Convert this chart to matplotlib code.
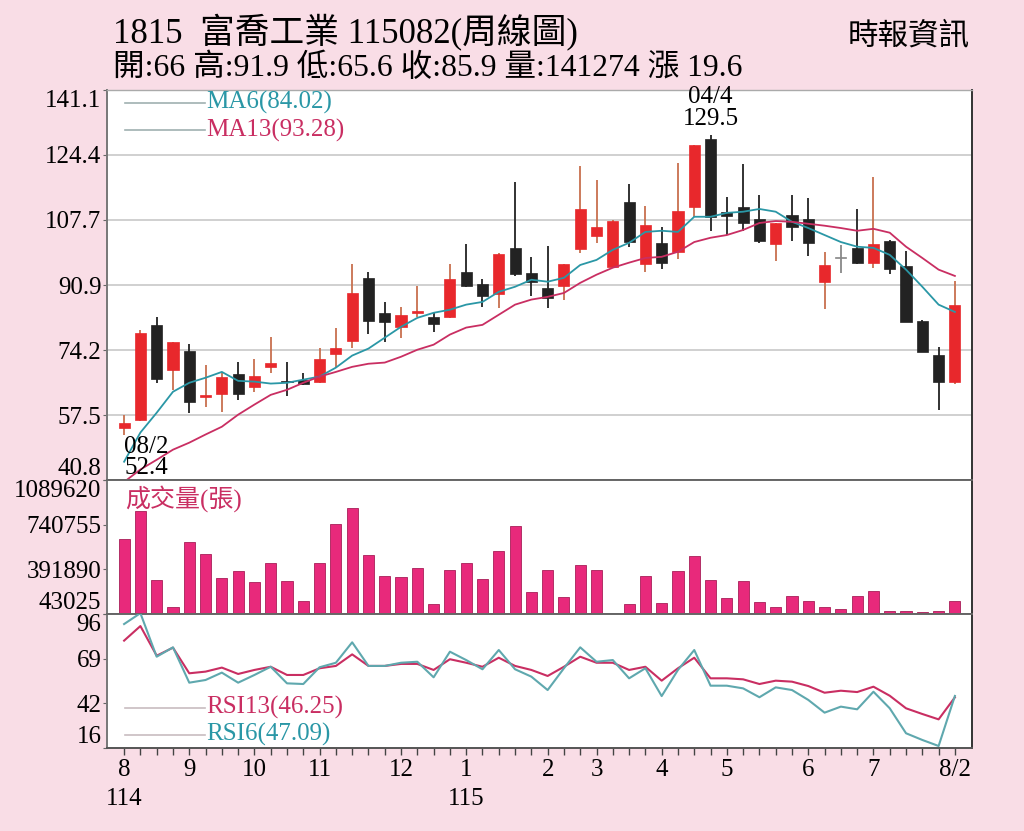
import matplotlib
matplotlib.use("Agg")
import matplotlib.pyplot as plt
from matplotlib.lines import Line2D
import numpy as np

# ---------------- data ----------------
opens = [54.2, 56.3, 80.7, 69.2, 74.0, 62.2, 63.0, 68.1, 64.8, 69.9,
         66.2, 66.6, 66.1, 73.3, 76.6, 92.8, 83.8, 80.2, 83.8, 82.8,
         82.8, 94.3, 91.3, 88.7, 100.5, 94.1, 90.2, 90.7, 100.3, 103.6,
         95.6, 112.3, 96.4, 101.8, 99.5, 111.0, 128.5, 109.8, 111.0, 108.0,
         101.5, 109.0, 108.0, 91.8, 97.9, 100.5, 96.7, 102.3, 95.9, 81.8,
         73.0, 66.0]
closes = [55.5, 78.7, 66.9, 76.4, 60.9, 62.7, 67.4, 63.0, 67.6, 71.0,
          65.9, 65.6, 72.0, 74.8, 88.9, 81.8, 81.5, 83.3, 84.3, 81.0,
          92.5, 90.7, 88.2, 98.9, 93.8, 91.8, 87.7, 96.4, 110.5, 105.9,
          107.4, 102.1, 106.4, 96.7, 110.0, 127.0, 108.5, 108.7, 106.9, 102.3,
          106.9, 105.9, 101.8, 96.1, 97.9, 96.7, 101.5, 95.1, 81.5, 73.8,
          66.1, 85.9]
highs = [57.6, 79.4, 82.8, 76.4, 75.8, 70.4, 68.4, 71.2, 72.0, 77.6,
         71.2, 68.4, 74.8, 80.0, 96.4, 94.3, 86.6, 85.3, 90.7, 84.1,
         96.4, 101.5, 92.5, 99.2, 117.5, 98.2, 101.0, 96.4, 121.6, 118.0,
         107.7, 117.0, 111.3, 105.9, 122.4, 127.0, 129.5, 113.6, 122.1, 114.1,
         106.9, 114.1, 113.4, 99.5, 101.3, 110.5, 118.8, 102.6, 99.8, 81.9,
         75.1, 91.9]
lows = [52.4, 56.0, 65.8, 64.0, 58.1, 59.7, 58.4, 61.5, 63.5, 68.4,
        62.5, 65.3, 65.8, 69.9, 74.8, 78.4, 76.4, 77.4, 82.8, 78.9,
        82.5, 90.5, 85.3, 85.1, 93.3, 88.2, 85.1, 87.2, 99.2, 101.8,
        95.3, 100.8, 94.3, 95.1, 97.7, 108.5, 104.9, 103.9, 104.9, 101.8,
        97.2, 102.3, 98.5, 84.8, 94.1, 96.4, 95.4, 93.8, 81.5, 73.7,
        58.9, 65.6]
ma6 = [45.5, 53.0, 58.1, 63.5, 65.8, 67.1, 68.6, 66.3, 66.1, 65.6,
       65.8, 66.6, 67.4, 69.7, 72.8, 74.6, 77.4, 80.2, 82.5, 83.8,
       84.6, 85.9, 86.6, 89.2, 90.5, 92.3, 91.8, 92.8, 96.1, 97.4,
       100.0, 101.8, 104.6, 104.9, 104.6, 108.5, 108.5, 109.5, 109.8, 110.5,
       109.8, 107.2, 105.6, 103.8, 102.0, 100.8, 100.5, 98.7, 94.9, 90.5,
       85.9, 84.02]
ma13 = [40.3, 43.5, 46.0, 48.6, 50.4, 52.5, 54.5, 57.6, 60.2, 62.7,
        64.0, 65.8, 67.4, 68.6, 69.9, 70.7, 71.0, 72.5, 74.3, 75.6,
        78.2, 80.0, 80.7, 83.3, 85.9, 87.2, 87.9, 88.9, 91.5, 93.6,
        95.4, 96.7, 97.9, 98.2, 99.5, 102.0, 103.1, 103.8, 105.1, 106.9,
        107.4, 107.2, 106.7, 106.2, 105.6, 104.9, 105.4, 104.4, 100.8, 97.9,
        94.9, 93.28]
volumes = [630860, 848040, 310590, 95770, 604100, 515180, 320820, 375900, 292490, 442000,
           300360, 142980, 442000, 743380, 869290, 501810, 339700, 331840, 405020, 121730,
           383770, 442000, 318460, 538790, 733150, 218520, 383770, 174460, 428620, 389280,
           0, 119370, 342060, 131960, 379050, 493940, 310590, 166590, 297210, 137470,
           100490, 184680, 145340, 95770, 84750, 187050, 221670, 64290, 69010, 58780,
           69010, 141274]
rsi6 = [90.0, 96.5, 70.5, 76.1, 55.0, 56.6, 61.0, 55.0, 59.6, 64.5,
        54.6, 54.2, 64.2, 66.9, 79.1, 65.0, 65.0, 66.9, 67.5, 58.2,
        73.5, 68.5, 63.0, 74.5, 63.0, 58.6, 50.6, 63.6, 76.1, 67.5,
        68.5, 57.6, 63.6, 47.0, 62.6, 74.5, 53.2, 53.2, 51.6, 46.3,
        52.2, 50.6, 44.7, 37.1, 40.7, 39.1, 49.6, 39.7, 24.8, 20.8,
        17.2, 47.09]
rsi13 = [80.1, 88.8, 71.1, 75.9, 60.6, 61.6, 64.0, 60.2, 62.6, 64.5,
         59.6, 59.6, 63.6, 65.0, 71.9, 65.0, 65.0, 66.2, 66.2, 62.6,
         69.0, 66.9, 64.5, 69.9, 65.0, 62.6, 59.0, 64.5, 70.5, 66.9,
         66.9, 62.6, 64.5, 56.2, 63.6, 69.9, 57.6, 57.6, 57.0, 54.2,
         56.2, 55.6, 53.0, 49.0, 50.2, 49.4, 52.6, 47.2, 39.7, 36.3,
         33.1, 46.25]
# month of each weekly candle
months = [8]*4 + [9]*4 + [10]*4 + [11]*5 + [12]*4 + [1]*5 + [2]*3 + [3]*4 + \
         [4]*4 + [5]*5 + [6]*4 + [7]*5 + [8]*1
x_labels = ['8\n114', '9', '10', '11', '12', '1\n115', '2', '3', '4', '5', '6', '7', '8/2']
price_ticks = [40.8, 57.5, 74.2, 90.9, 107.7, 124.4, 141.1]
vol_ticks = [43025, 391890, 740755, 1089620]
rsi_tick_labels = ['16', '42', '69', '96']
rsi_range = (16, 96)
title1 = '1815  富喬工業 115082(周線圖)'
title2 = '開:66 高:91.9 低:65.6 收:85.9 量:141274 漲 19.6'
source = '時報資訊'
ma_labels = ['MA6(84.02)', 'MA13(93.28)']
rsi_labels = ['RSI13(46.25)', 'RSI6(47.09)']
vol_label = '成交量(張)'
peak_label = '04/4\n129.5'
low_label = '08/2\n52.4'

# ---------------- style ----------------
FONT = ['Liberation Serif', 'Noto Sans CJK TC', 'DejaVu Sans']
plt.rcParams['font.family'] = FONT
BG = '#F9DDE6'
RED = '#E8282C'
BLACK = '#222222'
RED_WICK = '#C8704E'
TEAL = '#2A97A6'
CRIMSON = '#C92E62'
VOLC = '#E8297B'
FS = 18

W, H = 1024, 831
fig = plt.figure(figsize=(W / 100, H / 100), dpi=100, facecolor=BG)

def rect(l, t, r, b):
    return [l / W, 1 - b / H, (r - l) / W, (b - t) / H]

ax1 = fig.add_axes(rect(107, 90, 972, 480))
ax2 = fig.add_axes(rect(107, 480, 972, 614), sharex=ax1)
ax3 = fig.add_axes(rect(107, 614, 972, 748), sharex=ax1)

n = len(opens)
x = np.arange(n)
o = np.array(opens); c = np.array(closes)
hi = np.array(highs); lo = np.array(lows)

body_col, wick_col = [], []
for oi, ci in zip(o, c):
    if ci > oi:
        body_col.append(RED); wick_col.append(RED_WICK)
    elif ci < oi:
        body_col.append(BLACK); wick_col.append(BLACK)
    else:
        body_col.append('#888888'); wick_col.append('#888888')

ax1.vlines(x, lo, hi, colors=wick_col, lw=1.3, zorder=3)
ax1.bar(x, np.maximum(np.abs(c - o), 0.25), bottom=np.minimum(o, c), width=0.68,
        color=body_col, edgecolor=body_col, lw=0.5, zorder=4)
ax1.plot(x, ma6, color=TEAL, lw=1.3, zorder=5)
ax1.plot(x, ma13, color=CRIMSON, lw=1.3, zorder=5)

ax1.set_ylim(price_ticks[0], price_ticks[-1])
ax1.set_yticks(price_ticks)
ax1.set_yticklabels([f'{v:.1f}' for v in price_ticks])
ax1.grid(axis='y', color='#D0D0D0', lw=1.4, zorder=0)
ax1.set_xlim(-1.05, n + 0.05)

# annotations
ax1.annotate(peak_label, xy=(int(np.argmax(hi)), hi.max()), xytext=(0, 4),
             textcoords='offset points', ha='center', va='bottom',
             fontsize=FS, linespacing=0.95, zorder=6)
ax1.annotate(low_label, xy=(int(np.argmin(lo)), lo.min()), xytext=(0, -1),
             textcoords='offset points', ha='left', va='top',
             fontsize=FS, linespacing=0.95, zorder=6)

# MA legend
for i, (lab, col) in enumerate(zip(ma_labels, [TEAL, CRIMSON])):
    yy = 0.967 - i * 0.07
    ax1.add_line(Line2D([0.021, 0.113], [yy, yy], transform=ax1.transAxes,
                        color='#9FB0B0', lw=1.2))
    ax1.text(0.115, yy, lab, transform=ax1.transAxes, color=col,
             fontsize=FS, va='center', ha='left')

# volume
ax2.bar(x, volumes, width=0.68, color=VOLC, edgecolor='#A81E58', lw=0.6, zorder=3)
ax2.set_ylim(vol_ticks[0], vol_ticks[-1])
ax2.set_yticks(vol_ticks)
ax2.set_yticklabels([str(v) for v in vol_ticks])
ax2.text(0.021, 0.86, vol_label, transform=ax2.transAxes, color=CRIMSON,
         fontsize=FS, va='center', ha='left', zorder=6)

# RSI
ax3.plot(x, rsi13, color=CRIMSON, lw=1.5, zorder=4)
ax3.plot(x, rsi6, color='#5FA8AE', lw=1.5, zorder=4)
ax3.set_ylim(*rsi_range)
ax3.set_yticks(np.linspace(rsi_range[0], rsi_range[1], len(rsi_tick_labels)))
ax3.set_yticklabels(rsi_tick_labels)
for i, (lab, col) in enumerate(zip(rsi_labels, [CRIMSON, TEAL])):
    yy = 0.30 - i * 0.20
    ax3.add_line(Line2D([0.021, 0.113], [yy, yy], transform=ax3.transAxes,
                        color='#C8BCC0', lw=1.2))
    ax3.text(0.115, yy, lab, transform=ax3.transAxes, color=col,
             fontsize=FS, va='center', ha='left')

# x ticks
starts = [i for i in range(n) if i == 0 or months[i] != months[i - 1]]
ax3.set_xticks(starts)
ax3.set_xticklabels(x_labels, fontsize=FS, linespacing=1.4, va='top')
ax3.set_xticks(x, minor=True)
ax3.tick_params(axis='x', which='both', direction='out', length=5, width=1, color='#444444', pad=3)
for ax in (ax1, ax2):
    ax.tick_params(axis='x', which='both', bottom=False, labelbottom=False)

for ax in (ax1, ax2, ax3):
    ax.set_facecolor('white')
    ax.tick_params(axis='y', direction='out', length=3, color='#666666', labelsize=FS, pad=1)
    labs = ax.get_yticklabels()
    labs[0].set_va('bottom')
    labs[-1].set_va('top')
    for sp in ax.spines.values():
        sp.set_linewidth(1.4)
    ax.spines['left'].set_color('#777777')
    ax.spines['right'].set_color('#333333')
    ax.spines['top'].set_color('#666666')
    ax.spines['bottom'].set_color('#555555')
ax1.spines['top'].set_color('#AAAAAA')
ax1.spines['top'].set_linewidth(1.0)

# header
fig.text(113 / W, 1 - 33 / H, title1, fontsize=25, ha='left', va='center')
fig.text(113 / W, 1 - 68 / H, title2, fontsize=22.8, ha='left', va='center')
fig.text(970 / W, 1 - 38 / H, source, fontsize=22, ha='right', va='center')

fig.savefig('out.png', dpi=100, facecolor=BG)
